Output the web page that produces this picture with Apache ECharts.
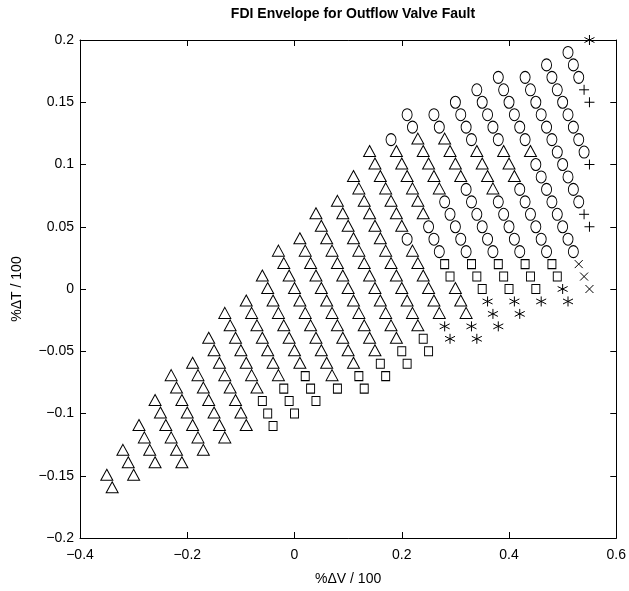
<!DOCTYPE html>
<html>
<head>
<meta charset="utf-8">
<script src="https://cdn.jsdelivr.net/npm/echarts@6/dist/echarts.min.js"></script>
<style>
html, body { margin: 0; padding: 0; background: #fff; }
#chart { width: 629px; height: 591px; }
</style>
</head>
<body>
<div id="chart"></div>
<script>
// 坐标刻度
xTicks = [-0.4, -0.2, 0, 0.2, 0.4, 0.6]
yTicks = [-0.2, -0.15, -0.1, -0.05, 0, 0.05, 0.1, 0.15, 0.2]

// 各类标记点 [dV, dT]
triangles = [
    [-0.35,-0.15],[-0.34,-0.16],
    [-0.32,-0.13],[-0.31,-0.14],[-0.30,-0.15],
    [-0.29,-0.11],[-0.28,-0.12],[-0.27,-0.13],[-0.26,-0.14],
    [-0.26,-0.09],[-0.25,-0.10],[-0.24,-0.11],[-0.23,-0.12],[-0.22,-0.13],[-0.21,-0.14],
    [-0.23,-0.07],[-0.22,-0.08],[-0.21,-0.09],[-0.20,-0.10],[-0.19,-0.11],[-0.18,-0.12],[-0.17,-0.13],
    [-0.19,-0.06],[-0.18,-0.07],[-0.17,-0.08],[-0.16,-0.09],[-0.15,-0.10],[-0.14,-0.11],[-0.13,-0.12],
    [-0.16,-0.04],[-0.15,-0.05],[-0.14,-0.06],[-0.13,-0.07],[-0.12,-0.08],[-0.11,-0.09],[-0.10,-0.10],[-0.09,-0.11],
    [-0.13,-0.02],[-0.12,-0.03],[-0.11,-0.04],[-0.10,-0.05],[-0.09,-0.06],[-0.08,-0.07],[-0.07,-0.08],
    [-0.09,-0.01],[-0.08,-0.02],[-0.07,-0.03],[-0.06,-0.04],[-0.05,-0.05],[-0.04,-0.06],[-0.03,-0.07],
    [-0.06,0.01],[-0.05,0.00],[-0.04,-0.01],[-0.03,-0.02],[-0.02,-0.03],[-0.01,-0.04],[0.00,-0.05],[0.01,-0.06],
    [-0.03,0.03],[-0.02,0.02],[-0.01,0.01],[0.00,0.00],[0.01,-0.01],[0.02,-0.02],[0.03,-0.03],[0.04,-0.04],[0.05,-0.05],[0.06,-0.06],[0.07,-0.07],
    [0.01,0.04],[0.02,0.03],[0.03,0.02],[0.04,0.01],[0.05,0.00],[0.06,-0.01],[0.07,-0.02],[0.08,-0.03],[0.09,-0.04],[0.10,-0.05],[0.11,-0.06],
    [0.04,0.06],[0.05,0.05],[0.06,0.04],[0.07,0.03],[0.08,0.02],[0.09,0.01],[0.10,0.00],[0.11,-0.01],[0.12,-0.02],[0.13,-0.03],[0.14,-0.04],[0.15,-0.05],
    [0.08,0.07],[0.09,0.06],[0.10,0.05],[0.11,0.04],[0.12,0.03],[0.13,0.02],[0.14,0.01],[0.15,0.00],[0.16,-0.01],[0.17,-0.02],[0.18,-0.03],[0.19,-0.04],
    [0.11,0.09],[0.12,0.08],[0.13,0.07],[0.14,0.06],[0.15,0.05],[0.16,0.04],[0.17,0.03],[0.18,0.02],[0.19,0.01],[0.20,0.00],[0.21,-0.01],[0.22,-0.02],[0.23,-0.03],
    [0.14,0.11],[0.15,0.10],[0.16,0.09],[0.17,0.08],[0.18,0.07],[0.19,0.06],[0.20,0.05],[0.22,0.03],[0.23,0.02],[0.24,0.01],[0.25,0.00],[0.26,-0.01],[0.27,-0.02],
    [0.19,0.11],[0.20,0.10],[0.21,0.09],[0.22,0.08],[0.23,0.07],[0.24,0.06],[0.30,0.00],[0.31,-0.01],[0.32,-0.02],
    [0.23,0.12],[0.24,0.11],[0.25,0.10],[0.26,0.09],[0.27,0.08],
    [0.28,0.12],[0.29,0.11],[0.30,0.10],[0.31,0.09],
    [0.34,0.11],[0.35,0.10],[0.36,0.09],[0.37,0.08],
    [0.39,0.11],[0.40,0.10],[0.41,0.09],
    [0.44,0.11]
]

circles = [
    [0.21,0.04],
    [0.18,0.12],[0.25,0.05],[0.26,0.04],[0.27,0.03],
    [0.21,0.14],[0.22,0.13],[0.28,0.07],[0.29,0.06],[0.30,0.05],[0.31,0.04],[0.32,0.03],
    [0.26,0.14],[0.27,0.13],[0.32,0.08],[0.33,0.07],[0.34,0.06],[0.35,0.05],[0.36,0.04],[0.37,0.03],
    [0.30,0.15],[0.31,0.14],[0.32,0.13],[0.33,0.12],[0.38,0.07],[0.39,0.06],[0.40,0.05],[0.41,0.04],[0.42,0.03],
    [0.34,0.16],[0.35,0.15],[0.36,0.14],[0.37,0.13],[0.38,0.12],[0.42,0.08],[0.43,0.07],[0.44,0.06],[0.45,0.05],[0.46,0.04],[0.47,0.03],
    [0.38,0.17],[0.39,0.16],[0.40,0.15],[0.41,0.14],[0.42,0.13],[0.43,0.12],[0.45,0.10],[0.46,0.09],[0.47,0.08],[0.48,0.07],[0.49,0.06],[0.50,0.05],[0.51,0.04],[0.52,0.03],
    [0.43,0.17],[0.44,0.16],[0.45,0.15],[0.46,0.14],[0.47,0.13],[0.48,0.12],[0.49,0.11],[0.50,0.10],[0.51,0.09],[0.52,0.08],[0.53,0.07],
    [0.47,0.18],[0.48,0.17],[0.49,0.16],[0.50,0.15],[0.51,0.14],[0.52,0.13],[0.53,0.12],[0.54,0.11],
    [0.51,0.19],[0.52,0.18],[0.53,0.17]
]

squares = [
    [-0.06,-0.09],[-0.05,-0.10],[-0.04,-0.11],
    [-0.02,-0.08],[-0.01,-0.09],[0.00,-0.10],
    [0.02,-0.07],[0.03,-0.08],[0.04,-0.09],
    [0.08,-0.08],
    [0.12,-0.07],[0.13,-0.08],
    [0.16,-0.06],[0.17,-0.07],
    [0.20,-0.05],[0.21,-0.06],
    [0.24,-0.04],[0.25,-0.05],
    [0.28,0.02],[0.29,0.01],
    [0.33,0.02],[0.34,0.01],[0.35,0.00],
    [0.38,0.02],[0.39,0.01],[0.40,0.00],
    [0.43,0.02],[0.44,0.01],[0.45,0.00],
    [0.48,0.02],[0.49,0.01]
]

stars = [
    [0.28,-0.03],[0.29,-0.04],
    [0.33,-0.03],[0.34,-0.04],
    [0.36,-0.01],[0.37,-0.02],[0.38,-0.03],
    [0.41,-0.01],[0.42,-0.02],
    [0.46,-0.01],
    [0.50,0.00],[0.51,-0.01],
    [0.55,0.20]
]

pluses = [
    [0.54,0.06],[0.55,0.05],
    [0.55,0.10],
    [0.54,0.16],[0.55,0.15]
]

crosses = [
    [0.53,0.02],[0.54,0.01],[0.55,0.00]
]

// 标记形状
const STAR = 'path://M5,0L5,10M0.7,2.5L9.3,7.5M0.7,7.5L9.3,2.5'
const PLUS = 'path://M5,0L5,10M0,5L10,5'
const CROSS = 'path://M0,0L10,10M0,10L10,0'

function fmt(v){
    let s = String(Math.round(v * 100) / 100)
    return s.replace('-', '\u2212')
}

function markerSeries(name, data, symbol, size, offset){
    return {
        name: name,
        type: 'scatter',
        data: data,
        symbol: symbol,
        symbolSize: size,
        symbolOffset: offset || [0, 0],
        itemStyle: {
            color: 'rgba(0,0,0,0)',
            borderColor: '#000',
            borderWidth: 1,
            opacity: 1
        },
        emphasis: { disabled: true },
        animation: false
    }
}

const font = 'Liberation Sans, Arial, Helvetica, sans-serif'
const axisCommon = {
    type: 'value',
    axisLine: { show: true, onZero: false, lineStyle: { color: '#000', width: 1 } },
    axisTick: { show: true, inside: true, length: 6, lineStyle: { color: '#000' } },
    splitLine: { show: false }
}

let option = {
    backgroundColor: '#fff',
    animation: false,
    title: {
        text: 'FDI Envelope for Outflow Valve Fault',
        left: 348,
        top: 2,
        textAlign: 'center',
        textStyle: { fontFamily: font, fontSize: 14, fontWeight: 'bold', color: '#000' }
    },
    grid: { left: 80, right: 12, top: 40, bottom: 50 },
    xAxis: [
        Object.assign({}, axisCommon, {
            position: 'bottom',
            min: xTicks[0], max: xTicks[xTicks.length - 1], interval: 0.2,
            name: '%\u0394V / 100',
            nameLocation: 'middle',
            nameGap: 34,
            nameTextStyle: { fontFamily: font, fontSize: 14, color: '#000' },
            axisLabel: { fontFamily: font, fontSize: 14, color: '#000', margin: 10, formatter: fmt }
        }),
        Object.assign({}, axisCommon, {
            position: 'top',
            min: xTicks[0], max: xTicks[xTicks.length - 1], interval: 0.2,
            axisLabel: { show: false }
        })
    ],
    yAxis: [
        Object.assign({}, axisCommon, {
            position: 'left',
            min: yTicks[0], max: yTicks[yTicks.length - 1], interval: 0.05,
            name: '%\u0394T / 100',
            nameLocation: 'middle',
            nameGap: 56,
            nameTextStyle: { fontFamily: font, fontSize: 14, color: '#000' },
            axisLabel: { fontFamily: font, fontSize: 14, color: '#000', margin: 6, formatter: fmt }
        }),
        Object.assign({}, axisCommon, {
            position: 'right',
            min: yTicks[0], max: yTicks[yTicks.length - 1], interval: 0.05,
            axisLabel: { show: false }
        })
    ],
    series: [
        markerSeries('triangle', triangles, 'triangle', [12, 11], [0, -1]),
        markerSeries('circle', circles, 'circle', [10, 12]),
        markerSeries('square', squares, 'rect', [8, 9]),
        markerSeries('star', stars, STAR, [10, 10]),
        markerSeries('plus', pluses, PLUS, [10, 10]),
        markerSeries('cross', crosses, CROSS, [8, 8])
    ]
}

let chartDom = echarts.init(document.querySelector('#chart'))
chartDom.setOption(option)
</script>
</body>
</html>
